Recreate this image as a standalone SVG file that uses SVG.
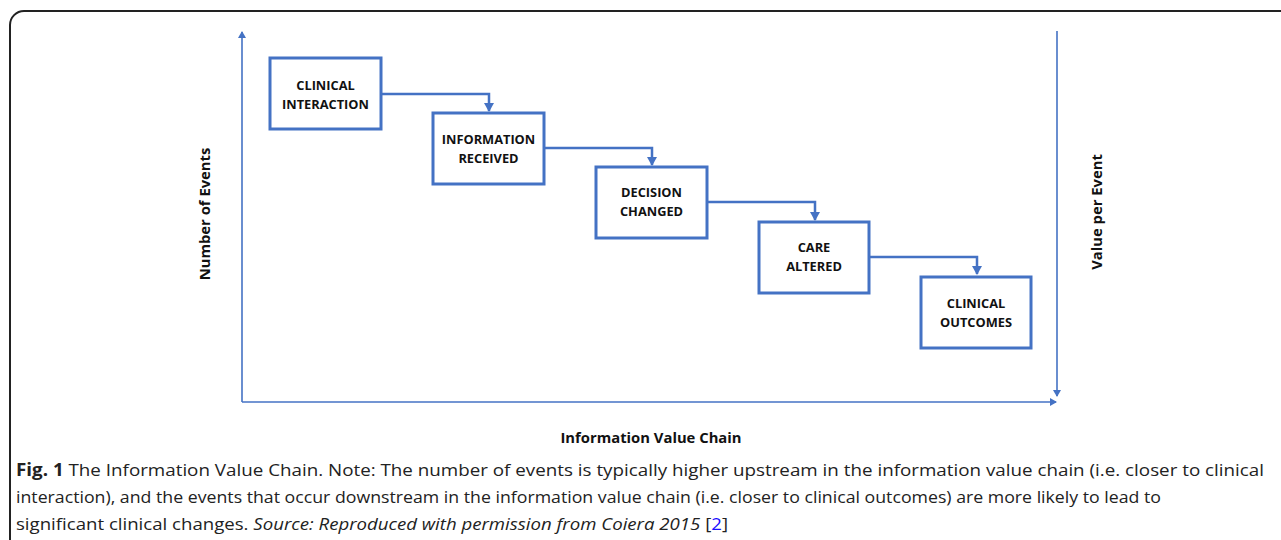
<svg xmlns="http://www.w3.org/2000/svg" width="1281" height="540" viewBox="0 0 1281 540">
<style>
.box{fill:#fff;stroke:#4472C4;stroke-width:3}
.lbl{font-family:"Open Sans","Liberation Sans",sans-serif;font-weight:bold;font-size:12.8px;fill:#111;text-anchor:middle}
.conn{fill:none;stroke:#4472C4;stroke-width:2.5}
.axis{fill:none;stroke:#4472C4;stroke-width:1.6}
.cap{font-family:"Open Sans","Liberation Sans",sans-serif;font-size:17px;fill:#222}
.axl{font-family:"Open Sans","Liberation Sans",sans-serif;font-weight:bold;font-size:14.8px;fill:#111;text-anchor:middle}
</style>
<defs>
<marker id="ah" markerWidth="8" markerHeight="8" refX="6" refY="4" orient="auto" markerUnits="userSpaceOnUse">
<path d="M0,0 L7,4 L0,8 z" fill="#4472C4"/>
</marker>
<marker id="ah2" markerWidth="10" markerHeight="10" refX="8" refY="5" orient="auto" markerUnits="userSpaceOnUse">
<path d="M0,0 L9,5 L0,10 z" fill="#4472C4"/>
</marker>
</defs>
<rect x="10" y="11" width="1300" height="560" rx="14" fill="#fff" stroke="#222" stroke-width="2"/>
<g id="axes">
<line class="axis" x1="242" y1="402" x2="242" y2="32" marker-end="url(#ah)"/>
<line class="axis" x1="242" y1="402" x2="1056" y2="402" marker-end="url(#ah)"/>
<line class="axis" x1="1057" y1="31" x2="1057" y2="396" marker-end="url(#ah)"/>
</g>
<g id="connectors">
<path class="conn" d="M381,94 H489 V111" marker-end="url(#ah2)"/>
<path class="conn" d="M544,148 H652 V165" marker-end="url(#ah2)"/>
<path class="conn" d="M707,202 H815 V220" marker-end="url(#ah2)"/>
<path class="conn" d="M869,257 H977 V274" marker-end="url(#ah2)"/>
</g>
<g id="n1"><rect class="box" x="270" y="58" width="111" height="71"/><text class="lbl" x="325.5" y="90">CLINICAL</text><text class="lbl" x="325.5" y="109">INTERACTION</text></g>
<g id="n2"><rect class="box" x="433" y="113" width="111" height="71"/><text class="lbl" x="488.5" y="144">INFORMATION</text><text class="lbl" x="488.5" y="163">RECEIVED</text></g>
<g id="n3"><rect class="box" x="596" y="167" width="111" height="71"/><text class="lbl" x="651.5" y="197">DECISION</text><text class="lbl" x="651.5" y="216">CHANGED</text></g>
<g id="n4"><rect class="box" x="759" y="222" width="110" height="71"/><text class="lbl" x="814" y="252">CARE</text><text class="lbl" x="814" y="271">ALTERED</text></g>
<g id="n5"><rect class="box" x="921" y="277" width="110" height="71"/><text class="lbl" x="976" y="308">CLINICAL</text><text class="lbl" x="976" y="327">OUTCOMES</text></g>
<text class="axl" transform="translate(210,214) rotate(-90)">Number of Events</text>
<text class="axl" transform="translate(1102,212) rotate(-90)">Value per Event</text>
<text class="axl" x="651" y="443">Information Value Chain</text>
<text class="cap" x="16" y="476" textLength="1248" lengthAdjust="spacingAndGlyphs"><tspan font-weight="bold">Fig. 1</tspan> The Information Value Chain. Note: The number of events is typically higher upstream in the information value chain (i.e. closer to clinical</text>
<text class="cap" x="16" y="503" textLength="1145" lengthAdjust="spacingAndGlyphs">interaction), and the events that occur downstream in the information value chain (i.e. closer to clinical outcomes) are more likely to lead to</text>
<text class="cap" x="16" y="530" textLength="712" lengthAdjust="spacingAndGlyphs">significant clinical changes. <tspan font-style="italic">Source: Reproduced with permission from Coiera 2015</tspan> [<tspan fill="#1a0dff">2</tspan>]</text>
</svg>
